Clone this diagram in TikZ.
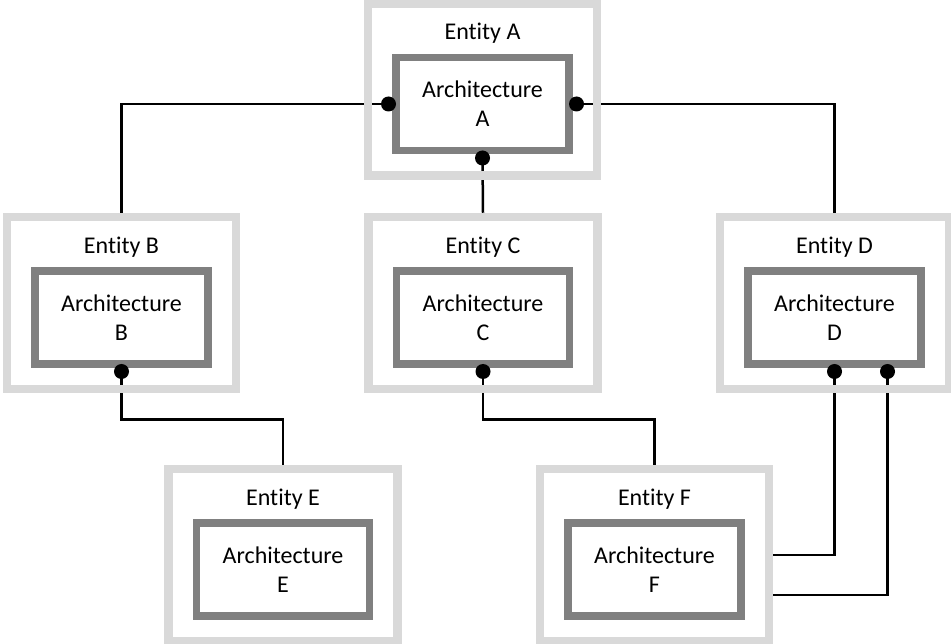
\documentclass[tikz,border=0pt]{standalone}
\usepackage{fontspec}
\setmainfont{Carlito}[Ligatures={NoCommon}]
\usetikzlibrary{calc,backgrounds}
\definecolor{entgray}{HTML}{D9D9D9}
\definecolor{archgray}{HTML}{808080}
\begin{document}
\begin{tikzpicture}[x=1pt,y=-1pt,
  entbox/.style={draw=entgray, line width=8.5pt, minimum width=229pt, minimum height=172pt, inner sep=0pt},
  archbox/.style={draw=archgray, line width=7.5pt, minimum width=173pt, minimum height=93pt, inner sep=0pt, align=center, font=\fontsize{24}{29}\selectfont},
  lbl/.style={anchor=base, font=\fontsize{24}{29}\selectfont, inner sep=0pt},
  conn/.style={line width=2.5pt},
  pin/.style={circle, fill=black, inner sep=0pt, minimum size=15pt}]
\useasboundingbox (0,0) rectangle (951,644);

% entities
\node[entbox] (entA) at (482.5,89.5) {};
\node[entbox] (entB) at (121.5,303) {};
\node[entbox] (entC) at (483,303) {};
\node[entbox] (entD) at (834.5,303) {};
\node[entbox] (entE) at (283,555) {};
\node[entbox] (entF) at (654.5,555) {};

% entity labels
\node[lbl] (lblA) at ($(entA)+(0,-49.5)$) {Entity A};
\node[lbl] (lblB) at ($(entB)+(0,-49.5)$) {Entity B};
\node[lbl] (lblC) at ($(entC)+(0,-49.5)$) {Entity C};
\node[lbl] (lblD) at ($(entD)+(0,-49.5)$) {Entity D};
\node[lbl] (lblE) at ($(entE)+(0,-49.5)$) {Entity E};
\node[lbl] (lblF) at ($(entF)+(0,-49.5)$) {Entity F};

% architectures
\node[archbox] (archA) at ($(entA)+(0,14.5)$) {Architecture\\A};
\node[archbox] (archB) at ($(entB)+(0,14.5)$) {Architecture\\B};
\node[archbox] (archC) at ($(entC)+(0,14.5)$) {Architecture\\C};
\node[archbox] (archD) at ($(entD)+(0,14.5)$) {Architecture\\D};
\node[archbox] (archE) at ($(entE)+(0,14.5)$) {Architecture\\E};
\node[archbox] (archF) at ($(entF)+(0,14.5)$) {Architecture\\F};

% connection points
\coordinate (pAL) at ($(archA.west)+(-3.75,0)$);
\coordinate (pAR) at ($(archA.east)+(3.75,0)$);
\coordinate (pAB) at ($(archA.south)+(0,3.75)$);
\coordinate (pBB) at ($(archB.south)+(0,3.75)$);
\coordinate (pCB) at ($(archC.south)+(0,3.75)$);
\coordinate (pD1) at ($(archD.south)+(0,3.75)$);
\coordinate (pD2) at ($(pD1)+(53,0)$);
\coordinate (pF2) at ($(entF.east)+(0,40)$);

\begin{pgfonlayer}{background}
\fill[white] (0,0) rectangle (951,644);
\draw[conn] (pAL) -| (entB.north);
\draw[conn] (pAB) -- (entC.north);
\draw[conn] (pAR) -| (entD.north);
\draw[conn] (pBB) -- ++(0,48) -| (entE.north);
\draw[conn] (pCB) -- ++(0,48) -| (entF.north);
\draw[conn] (pD1) |- (entF.east);
\draw[conn] (pD2) |- (pF2);
\end{pgfonlayer}

% pins
\node[pin] (dAL) at (pAL) {};
\node[pin] (dAR) at (pAR) {};
\node[pin] (dAB) at (pAB) {};
\node[pin] (dBB) at (pBB) {};
\node[pin] (dCB) at (pCB) {};
\node[pin] (dD1) at (pD1) {};
\node[pin] (dD2) at (pD2) {};
\end{tikzpicture}
\end{document}
